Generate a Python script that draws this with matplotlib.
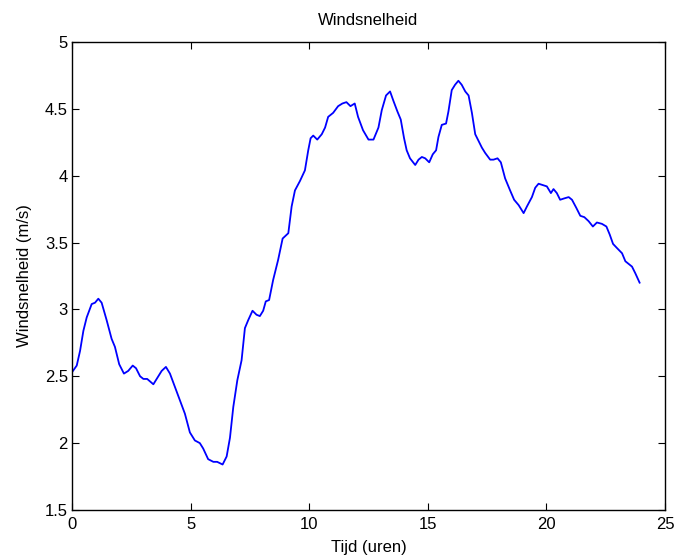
import matplotlib
matplotlib.use("Agg")
import matplotlib.pyplot as plt

# tijd (uren) en windsnelheid (m/s)
tijd = [0.0, 0.2, 0.34, 0.48, 0.62, 0.83, 0.97, 1.11, 1.25, 1.46, 1.67, 1.81, 1.99,
        2.19, 2.37, 2.56, 2.7, 2.87, 3.01, 3.17, 3.43, 3.57, 3.78, 3.96, 4.13, 4.34,
        4.55, 4.76, 4.97, 5.18, 5.39, 5.53, 5.74, 5.96, 6.12, 6.35, 6.52, 6.66, 6.8,
        6.97, 7.15, 7.29, 7.43, 7.61, 7.78, 7.92, 8.06, 8.17, 8.31, 8.48, 8.69, 8.88,
        9.12, 9.26, 9.4, 9.61, 9.82, 9.96, 10.06, 10.17, 10.34, 10.53, 10.67, 10.8,
        11.01, 11.22, 11.4, 11.57, 11.74, 11.92, 12.06, 12.27, 12.5, 12.71, 12.92,
        13.06, 13.24, 13.41, 13.55, 13.72, 13.86, 14.0, 14.11, 14.25, 14.47, 14.61,
        14.75, 14.89, 15.06, 15.21, 15.35, 15.45, 15.59, 15.77, 15.87, 16.01, 16.15,
        16.29, 16.43, 16.58, 16.72, 16.86, 17.0, 17.14, 17.28, 17.42, 17.63, 17.77,
        17.94, 18.08, 18.26, 18.47, 18.64, 18.83, 19.04, 19.18, 19.39, 19.53, 19.67,
        19.85, 20.02, 20.19, 20.3, 20.44, 20.58, 20.75, 20.94, 21.08, 21.26, 21.43,
        21.6, 21.78, 21.96, 22.13, 22.34, 22.53, 22.67, 22.81, 22.97, 23.19, 23.33,
        23.47, 23.61, 23.75, 23.93]
snelheid = [2.53, 2.58, 2.69, 2.84, 2.94, 3.04, 3.05, 3.08, 3.05, 2.92, 2.78, 2.72, 2.59,
            2.52, 2.54, 2.58, 2.56, 2.5, 2.48, 2.48, 2.44, 2.48, 2.54, 2.57, 2.52, 2.42,
            2.32, 2.22, 2.08, 2.02, 2.0, 1.96, 1.88, 1.86, 1.86, 1.84, 1.9, 2.04, 2.27,
            2.47, 2.62, 2.86, 2.92, 2.99, 2.96, 2.95, 2.99, 3.06, 3.07, 3.22, 3.37, 3.53,
            3.57, 3.77, 3.89, 3.96, 4.04, 4.19, 4.28, 4.3, 4.27, 4.31, 4.36, 4.44,
            4.47, 4.52, 4.54, 4.55, 4.52, 4.54, 4.44, 4.34, 4.27, 4.27, 4.36,
            4.49, 4.6, 4.63, 4.56, 4.48, 4.42, 4.28, 4.19, 4.13, 4.08, 4.12,
            4.14, 4.13, 4.1, 4.16, 4.19, 4.29, 4.38, 4.39, 4.48, 4.64, 4.68,
            4.71, 4.68, 4.63, 4.6, 4.47, 4.31, 4.26, 4.21, 4.17, 4.12, 4.12,
            4.13, 4.1, 3.98, 3.89, 3.82, 3.78, 3.72, 3.77, 3.84, 3.91, 3.94,
            3.93, 3.92, 3.87, 3.9, 3.87, 3.82, 3.83, 3.84, 3.82, 3.76, 3.7,
            3.69, 3.66, 3.62, 3.65, 3.64, 3.62, 3.56, 3.49, 3.46, 3.42, 3.36,
            3.34, 3.32, 3.27, 3.2]

xticks = [0, 5, 10, 15, 20, 25]
yticks = [1.5, 2, 2.5, 3, 3.5, 4, 4.5, 5]

plt.rcParams['font.family'] = ['Liberation Sans', 'DejaVu Sans']

fig = plt.figure(figsize=(6.76, 5.59), dpi=100)
ax = fig.add_axes([0.1065, 0.0877, 0.8772, 0.8372])
ax.plot(tijd, snelheid, color=(0, 0, 1), linewidth=1.3)

ax.set_xlim(0, 25)
ax.set_ylim(1.5, 5)
ax.set_xticks(xticks)
ax.set_yticks(yticks)
ax.set_xticklabels([str(t) for t in xticks])
ax.set_yticklabels(['%g' % t for t in yticks])
ax.tick_params(direction='in', top=True, right=True, length=5, width=0.8,
               labelsize=12)
ax.tick_params(axis='x', pad=5)
ax.tick_params(axis='y', pad=3)
for sp in ax.spines.values():
    sp.set_linewidth(1.0)

ax.set_title('Windsnelheid', fontsize=12, pad=12)
ax.set_xlabel('Tijd (uren)', fontsize=12, labelpad=6)
ax.set_ylabel('Windsnelheid (m/s)', fontsize=12, labelpad=9)

fig.savefig('out.png', dpi=100)
